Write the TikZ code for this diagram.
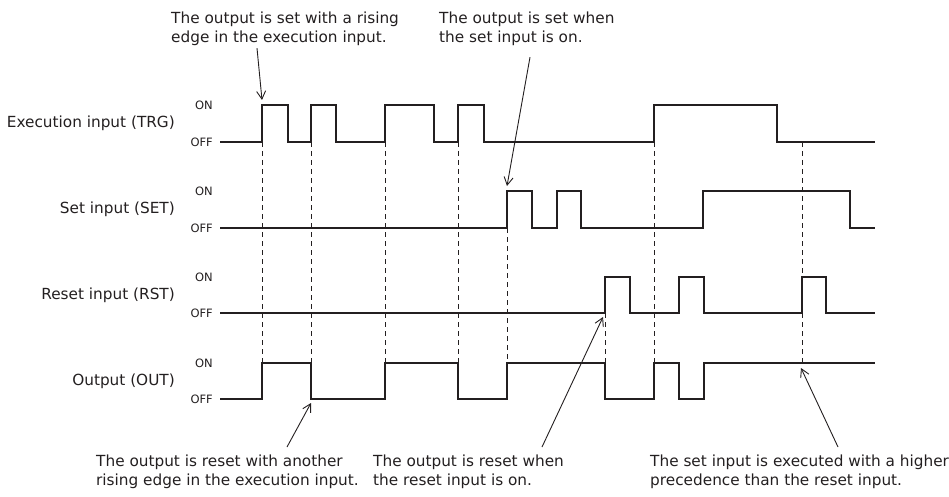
\documentclass[tikz,border=0pt]{standalone}
\usepackage{fontspec}
\setmainfont{DejaVu Sans}
\usetikzlibrary{positioning,arrows.meta}
\definecolor{ink}{RGB}{35,31,32}

\begin{document}
\begin{tikzpicture}[x=1pt, y=-1pt,
  sig/.style={ink, line width=2.2pt},
  guide/.style={ink, line width=0.9pt, dash pattern=on 5pt off 4pt},
  pointer/.style={ink, line width=0.9pt, -{Straight Barb[length=8pt, width=9pt]}},
  lvl/.style={font=\fontsize{11.5}{13}\selectfont, text=ink, anchor=east, inner sep=0pt},
  sname/.style={font=\fontsize{15.3}{19}\selectfont, text=ink, anchor=east, inner sep=0pt},
  note/.style={font=\fontsize{15.3}{19}\selectfont, text=ink, align=left,
               anchor=north west, inner sep=0pt},
]
\useasboundingbox (0,0) rectangle (949,497);

% signal names and levels
\node[sname] (trg) at (175,123.5) {Execution input (TRG)};
\node[lvl] (trgon)  at (213,105) {ON};
\node[lvl] (trgoff) at (213,142) {OFF};
\node[sname] (set) at (175,209.5) {Set input (SET)};
\node[lvl] (seton)  at (213,191) {ON};
\node[lvl] (setoff) at (213,228) {OFF};
\node[sname] (rst) at (175,295) {Reset input (RST)};
\node[lvl] (rston)  at (213,277) {ON};
\node[lvl] (rstoff) at (213,313) {OFF};
\node[sname] (out) at (175,381) {Output (OUT)};
\node[lvl] (outon)  at (213,363) {ON};
\node[lvl] (outoff) at (213,399) {OFF};

% timing guides
\foreach \x in {262,311,385,458,654,802}
  \draw[guide] (\x,142) -- (\x,363);
\draw[guide] (507,228) -- (507,363);
\draw[guide] (605,313) -- (605,363);

% waveforms
\draw[sig] (220,142) -| (262,105) -| (288,142) -| (311,105) -| (336,142) -| (385,105)
  -| (434,142) -| (458,105) -| (484,142) -| (654,105) -| (777,142) -- (875,142);
\draw[sig] (220,228) -| (507,191) -| (532,228) -| (557,191) -| (581,228) -| (703,191)
  -| (850,228) -- (875,228);
\draw[sig] (220,313) -| (605,277) -| (630,313) -| (679,277) -| (704,313) -| (802,277)
  -| (826,313) -- (875,313);
\draw[sig] (220,399) -| (262,363) -| (311,399) -| (385,363) -| (458,399) -| (507,363)
  -| (605,399) -| (654,363) -| (679,399) -| (704,363) -- (875,363);

% notes
\node[note] (tA) at (171,12) {The output is set with a rising\\edge in the execution input.};
\node[note] (tB) at (439,12) {The output is set when\\the set input is on.};
\node[note] (bA) at (96,455) {The output is reset with another\\rising edge in the execution input.};
\node[note] (bB) at (373,455) {The output is reset when\\the reset input is on.};
\node[note] (bC) at (650,455) {The set input is executed with a higher\\precedence than the reset input.};

\coordinate (firstRise) at (262,100);
\coordinate (setOn)     at (507,186);
\coordinate (nextRise)  at (311,403);
\coordinate (rstOn)     at (603,317);
\coordinate (setWins)   at (801,368);

\draw[pointer] ([xshift=86pt,yshift=-2pt]tA.south west) -- (firstRise);
\draw[pointer] ([xshift=91pt,yshift=-11pt]tB.south west) -- (setOn);
\draw[pointer] ([xshift=191pt,yshift=8pt]bA.north west) -- (nextRise);
\draw[pointer] ([xshift=169pt,yshift=8pt]bB.north west) -- (rstOn);
\draw[pointer] ([xshift=188pt,yshift=8pt]bC.north west) -- (setWins);
\end{tikzpicture}
\end{document}
